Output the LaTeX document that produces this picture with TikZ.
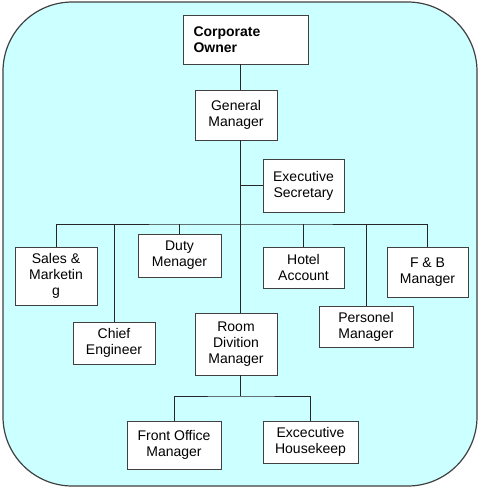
\documentclass[tikz,border=0pt]{standalone}
\usepackage{fontspec}
\setmainfont{Liberation Sans}
\usetikzlibrary{positioning}
\definecolor{paneback}{HTML}{CCFFFF}
\definecolor{paneline}{HTML}{404040}

\begin{document}
\begin{tikzpicture}[x=0.75pt, y=-0.75pt, inner sep=2pt,
			font=\fontsize{10.5}{12}\selectfont,
			post/.style={draw=paneline, fill=white, line width=0.6pt, align=center},
			link/.style={draw=black!85, line width=0.6pt}]
			\useasboundingbox (0,0) rectangle (480,489);
			\draw[paneline, fill=paneback, line width=0.9pt, rounded corners=52pt] (3,2) rectangle (477,486);
			% top of the chart
			\node [post, minimum width=93.75pt, minimum height=36.75pt, text width=78pt, align=left,
				font=\fontsize{10.5}{12}\selectfont\bfseries] (owner) at (245.5,39.5) {Corporate\\Owner};
			\node [post, minimum width=61.5pt, minimum height=37.5pt] (gm) at (236,115) {General\\Manager};
			\node [post, minimum width=60.75pt, minimum height=39.75pt] (sec) at (303.5,185.5) {Executive\\Secretary};
			% departments
			\node [post, minimum width=61.5pt, minimum height=43.5pt] (sales) at (56,276) {Sales \&\\Marketin\\g};
			\node [post, minimum width=61.5pt, minimum height=31.5pt] (chief) at (114,343) {Chief\\Engineer};
			\node [post, minimum width=62.25pt, minimum height=32.25pt] (duty) at (179.5,255.5) {Duty\\Menager};
			\node [post, minimum width=61.5pt, minimum height=46.5pt] (room) at (236,344) {Room\\Divition\\Manager};
			\node [post, minimum width=60.75pt, minimum height=30.75pt] (hotel) at (303.5,267.5) {Hotel\\Account};
			\node [post, minimum width=70.5pt, minimum height=30.75pt] (pers) at (366,326.5) {Personel\\Manager};
			\node [post, minimum width=60.75pt, minimum height=37.5pt] (fb) at (427.5,272) {F \& B\\Manager};
			% under room division
			\node [post, minimum width=70.5pt, minimum height=36pt] (front) at (174,445) {Front Office\\Manager};
			\node [post, minimum width=71.25pt, minimum height=31.5pt] (house) at (310.5,442) {Excecutive\\Housekeep};
			% lines
			\coordinate (bus) at (240,224);
			\coordinate (rbus) at (240,396);
			\path[link] (owner.south -| bus) -- (gm.north -| bus);
			\path[link] (gm.south -| bus) -- (room.north -| bus);
			\path[link] (sec.west -| bus) -- (sec.west);
			\path[link] (sales.north) |- (bus) -| (fb.north);
			\path[link] (chief.north) -- (chief.north |- bus);
			\path[link] (duty.north) -- (duty.north |- bus);
			\path[link] (hotel.north) -- (hotel.north |- bus);
			\path[link] (pers.north) -- (pers.north |- bus);
			\path[link] (room.south -| rbus) -- (rbus);
			\path[link] (front.north) |- (rbus) -| (house.north);
		\end{tikzpicture}
\end{document}
